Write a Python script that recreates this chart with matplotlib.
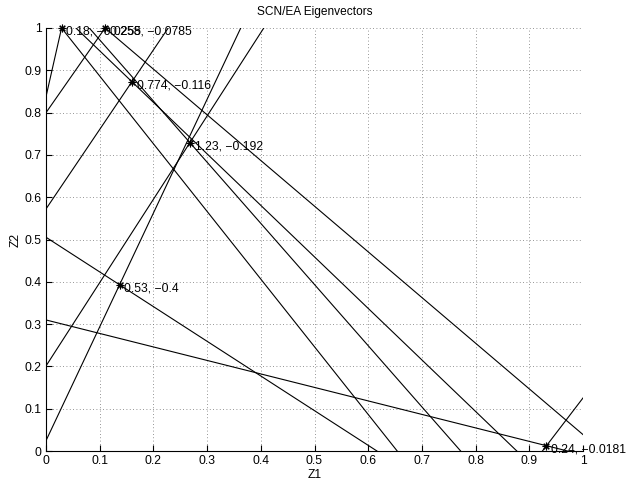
import matplotlib
matplotlib.use("Agg")
import matplotlib.pyplot as plt

plt.rcParams["font.family"] = ["Liberation Sans", "DejaVu Sans"]

# marked points (eigenvector intersections) and their labels
star_z1 = [0.029, 0.110, 0.160, 0.268, 0.137, 0.932]
star_z2 = [1.000, 1.000, 0.873, 0.729, 0.393, 0.0125]
star_labels = [
    "0.18, \u22120.0255",
    "0.258, \u22120.0785",
    "0.774, \u22120.116",
    "1.23, \u22120.192",
    "0.53, \u22120.4",
    "0.24, \u22120.0181",
]
# slopes of the two lines through each point
slope_up = [5.6, 1.82, 1.88, 1.97, 2.69, 1.66]
slope_down = [-1.6, -1.08, -1.218, -1.446, -0.82, -0.319]

ticks = [0, 0.1, 0.2, 0.3, 0.4, 0.5, 0.6, 0.7, 0.8, 0.9, 1]
tick_labels = ["0", "0.1", "0.2", "0.3", "0.4", "0.5", "0.6", "0.7", "0.8", "0.9", "1"]

fig = plt.figure(figsize=(6.26, 4.8), dpi=100)
ax = fig.add_axes([46 / 626, 1 - 451 / 480, 537 / 626, 423 / 480])

for x, y, su, sd in zip(star_z1, star_z2, slope_up, slope_down):
    ax.axline((x, y), slope=su, color="black", lw=0.8)
    ax.axline((x, y), slope=sd, color="black", lw=0.8)

# matlab-style asterisk markers
ax.plot(star_z1, star_z2, linestyle="none", marker=(8, 2, 0), color="black",
        markersize=5.5, markeredgewidth=0.8, clip_on=False, zorder=5)
for x, y, lab in zip(star_z1, star_z2, star_labels):
    ax.annotate(lab, (x, y), xytext=(3.5, -2.5), textcoords="offset points",
                ha="left", va="center", fontsize=8.7, annotation_clip=False)

ax.set_xlim(0, 1)
ax.set_ylim(0, 1)
ax.set_xticks(ticks)
ax.set_xticklabels(tick_labels)
ax.set_yticks(ticks)
ax.set_yticklabels(tick_labels)
ax.tick_params(direction="in", length=4, width=0.8, labelsize=8.7, pad=3)
ax.grid(True, linestyle=(0, (1, 3)), color="0.45", lw=0.6)
ax.spines["top"].set_visible(False)
ax.spines["right"].set_visible(False)
ax.spines["left"].set_linewidth(0.8)
ax.spines["bottom"].set_linewidth(0.8)

ax.set_title("SCN/EA Eigenvectors", fontsize=8.6, pad=9)
ax.set_xlabel("Z1", fontsize=8.7, labelpad=1)
ax.set_ylabel("Z2", fontsize=8.7, labelpad=2)

fig.savefig("out.png", dpi=100)
